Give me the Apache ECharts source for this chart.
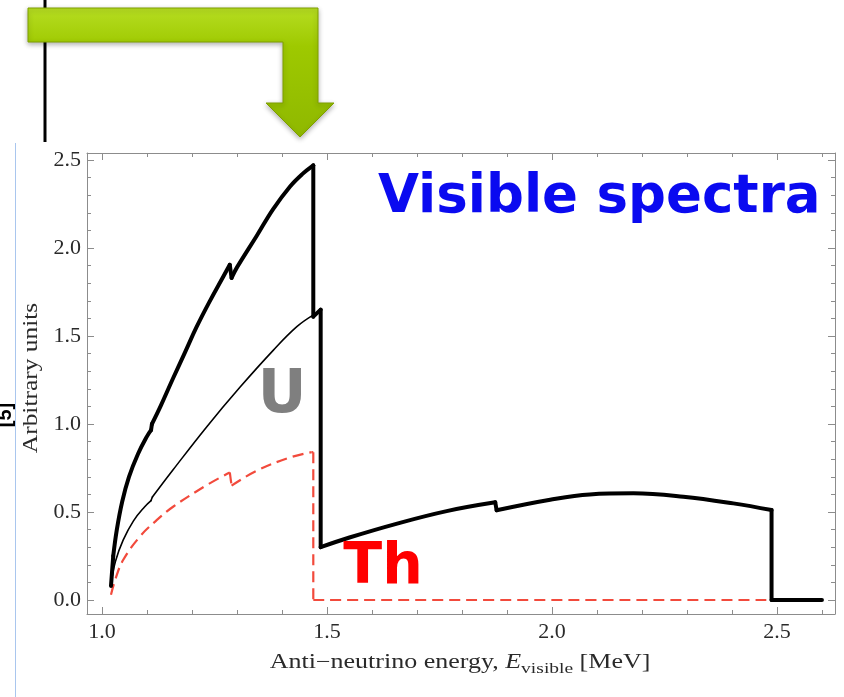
<!DOCTYPE html>
<html>
<head>
<meta charset="utf-8">
<script src="https://cdn.jsdelivr.net/npm/echarts@6/dist/echarts.min.js"></script>
<style>
html,body{margin:0;padding:0;background:#fff;}
#chart{width:844px;height:697px;}
</style>
</head>
<body>
<div id="chart"></div>
<script>
// ---- data ----
const xMajorTicks = [1.0, 1.5, 2.0, 2.5];
const xMinorTicks = [1.1, 1.2, 1.3, 1.4, 1.6, 1.7, 1.8, 1.9, 2.1, 2.2, 2.3, 2.4, 2.6];
const yMajorTicks = [0.0, 0.5, 1.0, 1.5, 2.0, 2.5];
const yMinorTicks = [0.1, 0.2, 0.3, 0.4, 0.6, 0.7, 0.8, 0.9, 1.1, 1.2, 1.3, 1.4, 1.6, 1.7, 1.8, 1.9, 2.1, 2.2, 2.3, 2.4];

// thick black: total visible spectrum
const totalX = [1.020, 1.025, 1.033, 1.045, 1.060, 1.080, 1.100, 1.109, 1.111, 1.130, 1.158, 1.185, 1.210, 1.240, 1.270, 1.284, 1.288, 1.300, 1.344, 1.380, 1.418, 1.445, 1.4696, 1.4696, 1.486, 1.486, 1.550, 1.650, 1.766, 1.874, 1.877, 1.996, 2.084, 2.181, 2.292, 2.403, 2.488, 2.488, 2.600];
const totalY = [0.08, 0.25, 0.40, 0.56, 0.70, 0.83, 0.93, 0.965, 1.00, 1.10, 1.26, 1.41, 1.55, 1.70, 1.84, 1.905, 1.83, 1.89, 2.07, 2.22, 2.35, 2.42, 2.47, 1.61, 1.65, 0.30, 0.355, 0.43, 0.505, 0.555, 0.51, 0.57, 0.60, 0.606, 0.587, 0.549, 0.511, 0.0, 0.0];

// thin black: U
const uX = [1.020, 1.030, 1.047, 1.070, 1.095, 1.109, 1.112, 1.158, 1.233, 1.307, 1.381, 1.433, 1.470];
const uY = [0.09, 0.22, 0.34, 0.45, 0.53, 0.565, 0.585, 0.74, 0.985, 1.21, 1.42, 1.553, 1.62];

// red dashed: Th
const thX = [1.020, 1.030, 1.047, 1.084, 1.120, 1.158, 1.233, 1.284, 1.288, 1.344, 1.418, 1.466, 1.4696, 1.4696, 2.488];
const thY = [0.03, 0.12, 0.227, 0.36, 0.45, 0.53, 0.653, 0.725, 0.65, 0.735, 0.81, 0.84, 0.84, 0.0, 0.0];

const serif = 'Liberation Serif';
const frameColor = '#8c8c8c';
const labelColor = '#2a2a2a';

// split a curve into smooth runs and straight jumps (vertical drops / small steps)
function curveSeries(xs, ys, lineStyle, z) {
  const out = [];
  const mk = (data, smooth) => ({
    type: 'line', data: data, smooth: smooth, showSymbol: false, symbol: 'none',
    xAxisIndex: 0, yAxisIndex: 0, z: z, lineStyle: lineStyle, silent: true
  });
  let run = [[xs[0], ys[0]]];
  for (let i = 1; i < xs.length; i++) {
    if (xs[i] - xs[i - 1] < 0.005) {
      if (run.length > 1) out.push(mk(run, 0.4));
      out.push(mk([[xs[i - 1], ys[i - 1]], [xs[i], ys[i]]], false));
      run = [[xs[i], ys[i]]];
    } else {
      run.push([xs[i], ys[i]]);
    }
  }
  if (run.length > 1) out.push(mk(run, 0.4));
  return out;
}

function xAx(position, ticks, len, showLine, showLabel) {
  return {
    type: 'value', position: position, min: 0.9667, max: 2.629,
    axisLine: {show: showLine, onZero: false, lineStyle: {color: frameColor, width: 1}},
    axisTick: {show: true, inside: true, length: len, customValues: ticks, lineStyle: {color: frameColor, width: 1}},
    axisLabel: {show: showLabel, customValues: ticks, fontFamily: serif, fontSize: 22, color: labelColor, margin: 7,
      formatter: v => v.toFixed(1)},
    splitLine: {show: false}
  };
}
function yAx(position, ticks, len, showLine, showLabel) {
  return {
    type: 'value', position: position, min: -0.0795, max: 2.54,
    axisLine: {show: showLine, onZero: false, lineStyle: {color: frameColor, width: 1}},
    axisTick: {show: true, inside: true, length: len, customValues: ticks, lineStyle: {color: frameColor, width: 1}},
    axisLabel: {show: showLabel, customValues: ticks, fontFamily: serif, fontSize: 22, color: labelColor, margin: 6,
      formatter: v => v.toFixed(1)},
    splitLine: {show: false}
  };
}

const series = [].concat(
  curveSeries(thX, thY, {color: '#f24a3c', width: 2.2, type: [11, 6], cap: 'butt'}, 2),
  curveSeries(uX, uY, {color: '#000000', width: 1.6, cap: 'round', join: 'round'}, 3),
  curveSeries(totalX, totalY, {color: '#000000', width: 4, cap: 'round', join: 'round'}, 4)
);

const chart = echarts.init(document.getElementById('chart'), null, {renderer: 'canvas'});

const option = {
  animation: false,
  backgroundColor: '#ffffff',
  grid: {left: 87, top: 153, right: 9, bottom: 83, show: false, containLabel: false},
  xAxis: [
    xAx('bottom', xMajorTicks, 7, true, true),
    xAx('bottom', xMinorTicks, 4, false, false),
    xAx('top', xMajorTicks, 7, true, false),
    xAx('top', xMinorTicks, 4, false, false)
  ],
  yAxis: [
    yAx('left', yMajorTicks, 7, true, true),
    yAx('left', yMinorTicks, 4, false, false),
    yAx('right', yMajorTicks, 7, true, false),
    yAx('right', yMinorTicks, 4, false, false)
  ],
  series: series,
  graphic: [
    // left-edge fragments of the surrounding slide
    {type: 'line', shape: {x1: 45, y1: 0, x2: 45, y2: 142}, style: {stroke: '#000', lineWidth: 3}, z: 10},
    {type: 'line', shape: {x1: 15.5, y1: 143, x2: 15.5, y2: 697}, style: {stroke: '#a9c6ee', lineWidth: 1}, z: 10},
    {type: 'text', x: 5, y: 415, rotation: Math.PI / 2,
      style: {text: '[5]', font: 'bold 20px "Liberation Sans"', fill: '#000', textAlign: 'center', textVerticalAlign: 'middle'}, z: 10},
    // green bent arrow
    {type: 'polygon', z: 10,
      shape: {points: [[28, 8], [318, 8], [318, 103], [334, 103], [300, 137], [266, 103], [283, 103], [283, 42], [28, 42]]},
      style: {
        fill: {type: 'linear', x: 0, y: 0, x2: 0, y2: 1, colorStops: [
          {offset: 0, color: '#b6dd22'}, {offset: 0.3, color: '#9ec900'}, {offset: 1, color: '#8fb800'}]},
        stroke: '#7f9f00', lineWidth: 1,
        shadowBlur: 5, shadowOffsetY: 2, shadowColor: 'rgba(0,0,0,0.3)'
      }},
    // axis titles (stretched like the reference)
    {type: 'text', x: 460, y: 663, scaleX: 1.3, z: 20,
      style: {
        text: '{a|Anti\u2212neutrino energy, }{e|E}{s|visible}{a| [MeV]}',
        textAlign: 'center', textVerticalAlign: 'middle',
        rich: {
          a: {fontFamily: serif, fontSize: 20, fill: labelColor, lineHeight: 28, verticalAlign: 'middle'},
          e: {fontFamily: serif, fontSize: 20, fontStyle: 'italic', fill: labelColor, lineHeight: 28, verticalAlign: 'middle'},
          s: {fontFamily: serif, fontSize: 15, fill: labelColor, lineHeight: 15, verticalAlign: 'bottom'}
        }
      }},
    {type: 'text', x: 32, y: 378, rotation: Math.PI / 2, scaleX: 1.27, z: 20,
      style: {text: 'Arbitrary units', font: '20px "Liberation Serif"', fill: labelColor, textAlign: 'center', textVerticalAlign: 'middle'}},
    // annotations
    {type: 'text', x: 378, y: 198, z: 20,
      style: {text: 'Visible spectra', font: 'bold 53px "DejaVu Sans"', fill: '#0a0af0', textAlign: 'left', textVerticalAlign: 'middle'}},
    {type: 'text', x: 282, y: 396, z: 20,
      style: {text: 'U', font: 'bold 60px "DejaVu Sans"', fill: '#7f7f7f', textAlign: 'center', textVerticalAlign: 'middle'}},
    {type: 'text', x: 383, y: 568, z: 20,
      style: {text: 'Th', font: 'bold 57px "DejaVu Sans"', fill: '#ff0000', textAlign: 'center', textVerticalAlign: 'middle'}}
  ]
};
chart.setOption(option);
</script>
</body>
</html>
